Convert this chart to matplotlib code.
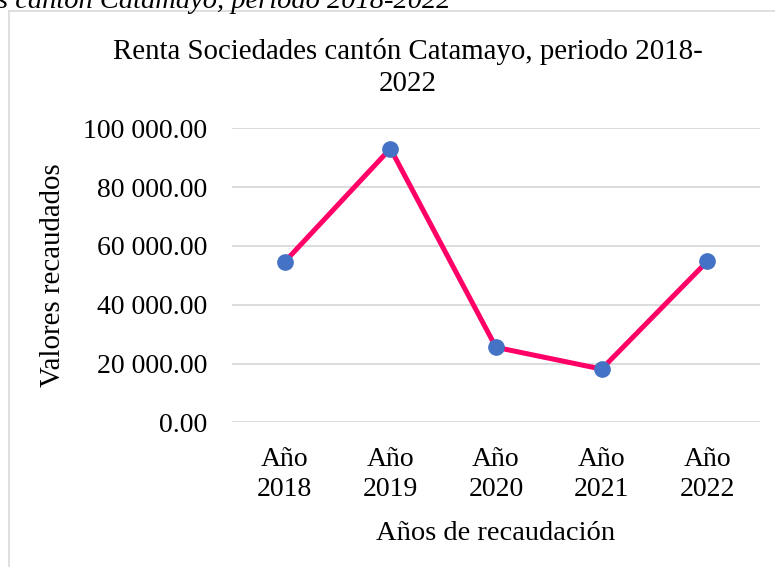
import matplotlib.pyplot as plt
from matplotlib.lines import Line2D
from matplotlib.ticker import FuncFormatter

# ==== datos ====
anios = ['Año\n2018', 'Año\n2019', 'Año\n2020', 'Año\n2021', 'Año\n2022']
valores = [54600, 93100, 25500, 18100, 54700]
y_ticks = [0, 20000, 40000, 60000, 80000, 100000]

plt.rcParams['font.family'] = ['Liberation Serif', 'DejaVu Serif']

W, H = 775, 567
fig = plt.figure(figsize=(W / 100, H / 100), dpi=100)

# caja del gráfico (borde gris de Excel)
fig.add_artist(Line2D([9 / W, 1], [1 - 11 / H, 1 - 11 / H], color='#D9D9D9', lw=1.2))
fig.add_artist(Line2D([9 / W, 9 / W], [0, 1 - 11 / H], color='#D9D9D9', lw=1.2))

# texto recortado del pie de figura de arriba
fig.text(450 / W, 1 - 8 / H, 's cantón Catamayo, periodo 2018-2022', ha='right', va='baseline',
         fontsize=20.5, style='italic')

ax = fig.add_axes([232 / W, 1 - 422.3 / H, (760 - 232) / W, (422.3 - 128.3) / H])
x = range(len(anios))
ax.plot(x, valores, color='#FF0066', lw=3.6, marker='o', markersize=11,
        markerfacecolor='#4472C4', markeredgecolor='#4472C4', zorder=3)

ax.set_xlim(-0.5, len(anios) - 0.5)
ax.set_ylim(0, 100000)
ax.set_yticks(y_ticks)
ax.yaxis.set_major_formatter(FuncFormatter(lambda v, p: f'{v:,.2f}'.replace(',', ' ')))
ax.set_xticks(list(x))
ax.set_xticklabels(anios, linespacing=1.25)
ax.grid(axis='y', color='#D9D9D9', lw=1.3)
ax.set_axisbelow(True)
for s in ax.spines.values():
    s.set_visible(False)
ax.tick_params(axis='both', length=0, labelsize=20)
ax.tick_params(axis='y', pad=18)
ax.tick_params(axis='x', pad=18)

ax.set_ylabel('Valores recaudados', fontsize=20.8, labelpad=12)
ax.set_xlabel('Años de recaudación', fontsize=20.5, labelpad=14)

fig.text(408 / W, 1 - 38 / H, 'Renta Sociedades cantón Catamayo, periodo 2018-\n2022',
         ha='center', va='top', fontsize=20.8, linespacing=1.3)

fig.savefig('out.png', dpi=100)
